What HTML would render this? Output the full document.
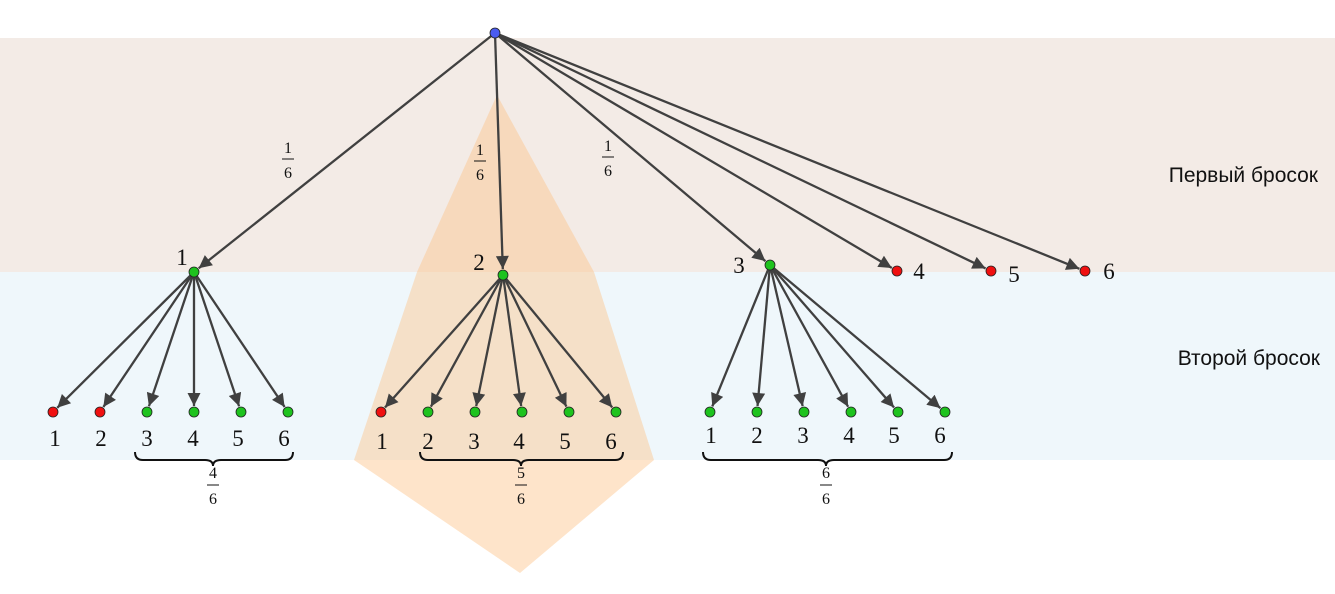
<!DOCTYPE html>
<html><head><meta charset="utf-8"><style>
html,body{margin:0;padding:0;background:#fff;}
svg{display:block;}
.n{font-family:"Liberation Serif",serif;font-size:23px;fill:#111;}
.f{font-family:"Liberation Serif",serif;font-size:16px;fill:#111;}
.t{font-family:"Liberation Sans",sans-serif;font-size:21px;fill:#111;}
</style></head><body>
<svg id="s" width="1335" height="594" viewBox="0 0 1335 594" xmlns="http://www.w3.org/2000/svg">
<defs><marker id="a" viewBox="0 0 10 10" refX="10" refY="5" markerWidth="15" markerHeight="13" markerUnits="userSpaceOnUse" orient="auto"><path d="M0,0 L10,5 L0,10 z" fill="#404040"/></marker></defs>
<rect x="0" y="38" width="1335" height="234" fill="#f3ebe6"/>
<rect x="0" y="272" width="1335" height="188" fill="#eff7fb"/>
<polygon points="497,95 594,272 654,460 520,573 354,460 417,272" fill="#fcc48a" fill-opacity="0.45"/>
<g id="lines" stroke="#404040" stroke-width="2.3" fill="none"></g>
<g id="nodes" stroke="#222" stroke-width="0.8"></g>
<g class="f" text-anchor="middle">
<text x="288" y="153">1</text><line x1="282" y1="159" x2="294" y2="159" stroke="#111"/><text x="288" y="178">6</text>
<text x="480" y="155">1</text><line x1="474" y1="161" x2="486" y2="161" stroke="#111"/><text x="480" y="180">6</text>
<text x="608" y="151">1</text><line x1="602" y1="157" x2="614" y2="157" stroke="#111"/><text x="608" y="176">6</text>
<text x="213" y="478">4</text><line x1="207" y1="485" x2="219" y2="485" stroke="#111"/><text x="213" y="504">6</text>
<text x="521" y="478">5</text><line x1="515" y1="485" x2="527" y2="485" stroke="#111"/><text x="521" y="504">6</text>
<text x="826" y="478">6</text><line x1="820" y1="485" x2="832" y2="485" stroke="#111"/><text x="826" y="504">6</text>
</g>
<g stroke="#111" stroke-width="2" fill="none">
<path d="M135,452 q0,8 8,8 h62 q8,0 8,6 q0,-6 8,-6 h64 q8,0 8,-8"/>
<path d="M420,452 q0,8 8,8 h85 q8,0 8,6 q0,-6 8,-6 h86 q8,0 8,-8"/>
<path d="M703,452 q0,8 8,8 h107 q8,0 8,6 q0,-6 8,-6 h110 q8,0 8,-8"/>
</g>
<g class="n" text-anchor="middle">
<text x="182" y="265">1</text><text x="479" y="270">2</text><text x="739" y="273">3</text>
<text x="919" y="279">4</text><text x="1014" y="282">5</text><text x="1109" y="279">6</text>
<text x="55" y="446">1</text><text x="101" y="446">2</text><text x="147" y="446">3</text><text x="193" y="446">4</text><text x="238" y="446">5</text><text x="284" y="446">6</text>
<text x="382" y="449">1</text><text x="428" y="449">2</text><text x="474" y="449">3</text><text x="519" y="449">4</text><text x="565" y="449">5</text><text x="611" y="449">6</text>
<text x="711" y="443">1</text><text x="757" y="443">2</text><text x="803" y="443">3</text><text x="849" y="443">4</text><text x="894" y="443">5</text><text x="940" y="443">6</text>
</g>
<text class="t" x="1318" y="182" text-anchor="end">Первый бросок</text>
<text class="t" x="1320" y="365" text-anchor="end">Второй бросок</text>
</svg>
<script>
var NS="http://www.w3.org/2000/svg",L=document.getElementById("lines"),N=document.getElementById("nodes");
var G="#1ec31e",R="#f01010";
function ln(a,b){var dx=b[0]-a[0],dy=b[1]-a[1],d=Math.hypot(dx,dy),k=(d-6)/d;
var e=document.createElementNS(NS,"line");e.setAttribute("x1",a[0]);e.setAttribute("y1",a[1]);
e.setAttribute("x2",a[0]+dx*k);e.setAttribute("y2",a[1]+dy*k);e.setAttribute("marker-end","url(#a)");L.appendChild(e);}
function nd(p,c){var e=document.createElementNS(NS,"circle");e.setAttribute("cx",p[0]);e.setAttribute("cy",p[1]);e.setAttribute("r",5);e.setAttribute("fill",c);N.appendChild(e);}
var root=[495,33];
var l1=[[194,272,G],[503,275,G],[770,265,G],[897,271,R],[991,271,R],[1085,271,R]];
l1.forEach(function(p){ln(root,p);});
var kids=[[194,272,[53,100,147,194,241,288],[R,R,G,G,G,G]],[503,275,[381,428,475,522,569,616],[R,G,G,G,G,G]],[770,265,[710,757,804,851,898,945],[G,G,G,G,G,G]]];
kids.forEach(function(k){k[2].forEach(function(x,i){ln([k[0],k[1]],[x,412]);});});
kids.forEach(function(k){k[2].forEach(function(x,i){nd([x,412],k[3][i]);});});
l1.forEach(function(p){nd(p,p[2]);});
nd(root,"#4a5cf0");
</script>
</body></html>
